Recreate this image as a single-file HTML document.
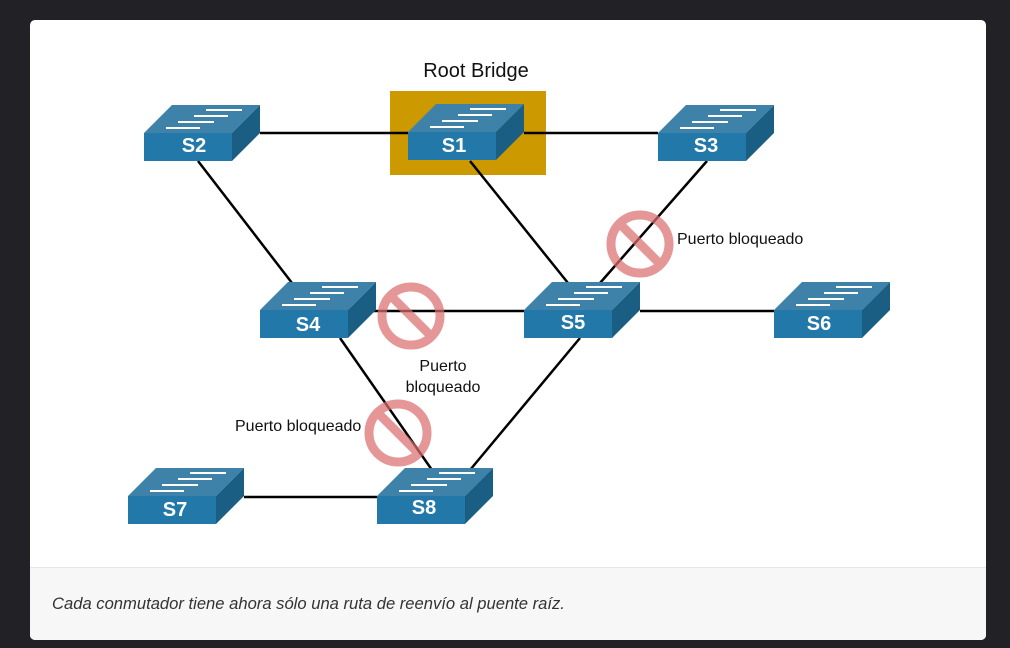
<!DOCTYPE html>
<html><head><style>
body{margin:0;background:#222226;width:1010px;height:648px;overflow:hidden;font-family:"Liberation Sans",sans-serif}
.card{position:absolute;left:30px;top:20px;width:956px;height:620px;background:#fff;border-radius:5px;overflow:hidden}
.foot{position:absolute;left:0;top:547px;width:956px;height:73px;background:#f7f7f7;border-top:1px solid #e6e6e6}
.foot p{margin:0;position:absolute;left:22px;top:26px;font-style:italic;font-size:16.6px;color:#333}
</style></head><body>
<div class="card"><div class="foot"><p>Cada conmutador tiene ahora sólo una ruta de reenvío al puente raíz.</p></div></div>
<svg width="1010" height="648" style="position:absolute;left:0;top:0">
<defs>
<g id="sw">
<polygon points="0,0 88,0 116,-28 28,-28" fill="#3f82a9"/>
<rect x="0" y="0" width="88" height="28" fill="#2278a8"/>
<polygon points="88,0 116,-28 116,0 88,28" fill="#1b5e84"/>
<g stroke="#fff" stroke-width="2">
<line x1="62" y1="-23" x2="98" y2="-23"/><line x1="50" y1="-17" x2="84" y2="-17"/>
<line x1="34" y1="-11" x2="70" y2="-11"/><line x1="22" y1="-5" x2="56" y2="-5"/>
</g>
</g>
</defs>
<rect x="390" y="91" width="156" height="84" fill="#cc9a00"/>
<text x="476" y="77" font-size="20" text-anchor="middle" fill="#111">Root Bridge</text>
<g stroke="#000" stroke-width="2.5">
<line x1="260" y1="133" x2="408" y2="133"/><line x1="524" y1="133" x2="658" y2="133"/>
<line x1="198" y1="161" x2="292" y2="283"/><line x1="470" y1="161" x2="568" y2="283"/>
<line x1="707" y1="161" x2="600" y2="283"/><line x1="348" y1="311" x2="524" y2="311"/>
<line x1="640" y1="311" x2="774" y2="311"/><line x1="340" y1="338" x2="432" y2="470"/>
<line x1="580" y1="338" x2="470" y2="470"/><line x1="244" y1="497" x2="377" y2="497"/>
</g>
<g font-size="20" font-weight="bold" fill="#fff" text-anchor="middle">
<use href="#sw" x="144" y="133"/><text x="194" y="152">S2</text>
<use href="#sw" x="408" y="132"/><text x="454" y="152">S1</text>
<use href="#sw" x="658" y="133"/><text x="706" y="152">S3</text>
<use href="#sw" x="260" y="310"/><text x="308" y="331">S4</text>
<use href="#sw" x="524" y="310"/><text x="573" y="329">S5</text>
<use href="#sw" x="774" y="310"/><text x="819" y="330">S6</text>
<use href="#sw" x="128" y="496"/><text x="175" y="516">S7</text>
<use href="#sw" x="377" y="496"/><text x="424" y="514">S8</text>
</g>
<g stroke="#dc7070" stroke-width="9" fill="none" opacity="0.72">
<circle cx="640" cy="244" r="29"/><line x1="620" y1="224" x2="660" y2="264"/>
<circle cx="411" cy="316" r="29"/><line x1="391" y1="296" x2="431" y2="336"/>
<circle cx="398" cy="433" r="29"/><line x1="378" y1="413" x2="418" y2="453"/>
</g>
<g font-size="16" fill="#111">
<text x="677" y="244">Puerto bloqueado</text>
<text x="443" y="371" text-anchor="middle">Puerto</text>
<text x="443" y="392" text-anchor="middle">bloqueado</text>
<text x="235" y="431">Puerto bloqueado</text>
</g>
</svg>
</body></html>
